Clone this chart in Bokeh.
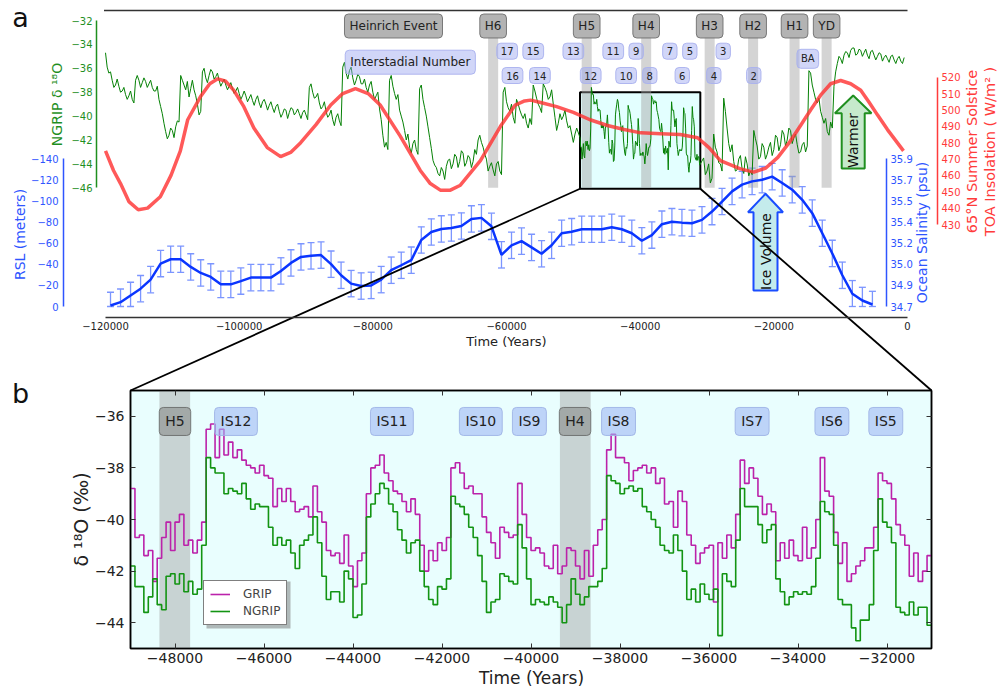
import numpy as np
from bokeh.plotting import figure
from bokeh.models import (Range1d, LinearAxis, FixedTicker, Label, Whisker, TeeHead,
                          ColumnDataSource, Legend, LegendItem)
from bokeh.embed import file_html
from bokeh.resources import INLINE

FONT = "DejaVu Sans"

# ---------------------------------------------------------------- data
# NGRIP d18O (panel a), values at -120000 + 500*k (up to -49500)
NGRIP_A_EARLY = [
    -34.7, -36.4, -37.0, -37.4, -37.5, -37.9, -38.2, -38.3, -38.6, -37.0,
    -37.0, -37.2, -37.1, -37.3, -37.6, -37.9, -38.6, -39.8, -41.3, -41.6,
    -41.2, -40.9, -40.5, -37.0, -37.8, -38.4, -37.0, -38.3, -39.9, -36.3,
    -36.8, -36.6, -36.3, -36.7, -37.0, -37.2, -37.4, -37.5, -37.7, -37.9,
    -38.1, -38.3, -38.3, -38.5, -38.7, -38.6, -38.9, -38.8, -39.0, -39.1,
    -39.3, -39.2, -39.6, -39.8, -39.5, -39.7, -39.4, -39.7, -39.8,
    -39.7, -39.9, -37.6, -38.0, -38.4, -38.9, -39.2, -39.6, -39.9, -40.3,
    -40.1, -40.4, -35.9, -36.4, -36.2, -36.8, -37.0, -36.7, -37.3, -37.6,
    -37.4, -38.0, -38.3, -39.4, -41.6, -42.2, -37.0, -37.5, -38.6, -39.5,
    -40.5, -42.0, -42.6, -42.3, -42.8, -37.7, -38.6, -40.0, -41.8, -43.7,
    -44.3, -45.0, -44.6, -44.2, -43.6, -44.0, -43.4, -43.8, -43.1, -43.9,
    -43.5, -43.8, -43.2, -41.6, -42.6, -43.6, -44.2, -44.5, -44.0, -44.6,
    -38.0, -38.8, -39.6, -40.1, -38.6, -39.5, -40.2, -40.6, -40.2, -37.4,
    -38.5, -39.3, -37.3, -38.0, -38.4, -39.0, -41.2, -39.8, -40.0, -40.4,
    -40.8, -42.2, -41.0]
# NGRIP d18O (panel a), values at -119750 + 500*k (between the ones above)
NGRIP_A_EARLY_MID = [
    -35.9, -36.3, -37.6, -36.9, -38.0, -37.6, -38.6, -37.9, -38.9, -36.6,
    -37.6, -36.8, -37.6, -37.0, -37.9, -37.5, -39.2, -40.6, -41.9, -41.0,
    -41.8, -40.4, -36.6, -37.4, -37.1, -37.7, -37.8, -39.0, -39.6, -36.0,
    -37.2, -36.1, -36.9, -36.4, -37.5, -36.9, -37.8, -37.2, -38.1, -37.6,
    -38.6, -37.9, -38.8, -38.2, -39.1, -38.3, -39.3, -38.6, -39.5, -38.8,
    -39.7, -39.0, -40.1, -39.4, -40.2, -39.3, -39.9, -39.4, -40.2, -39.5,
    -40.3, -37.3, -38.5, -38.1, -39.4, -38.8, -40.1, -39.5, -40.8, -39.8,
    -40.8, -35.5, -36.9, -35.9, -37.4, -36.5, -37.3, -36.9, -38.0, -37.1,
    -38.6, -38.0, -40.3, -42.6, -42.8, -36.6, -38.1, -38.2, -40.0, -41.2,
    -41.5, -43.1, -42.0, -43.2, -37.4, -39.3, -40.9, -42.7, -44.1, -44.8,
    -44.3, -45.3, -43.7, -44.4, -43.2, -44.3, -42.9, -44.2, -43.3, -44.3,
    -42.8, -42.0, -42.2, -43.2, -44.6, -43.9, -45.0, -43.8, -44.9, -37.6,
    -39.3, -39.0, -40.6, -39.0, -39.9, -39.8, -41.0, -40.7, -37.9, -39.0,
    -39.7, -37.6, -38.6, -37.8, -40.1, -40.6, -40.3, -39.5, -41.0, -41.5,
    -41.5]
# NGRIP d18O (panel a), values at -30500 + 500*k
NGRIP_A_LATE = [
    -43.5, -44.6, -45.6, -41.5, -43.0, -44.0, -38.5, -41.0, -43.0, -43.8,
    -44.5, -43.3, -44.8, -44.0, -44.6, -41.2, -42.5, -43.4, -42.6, -43.2,
    -42.2, -42.8, -41.8, -42.4, -41.5, -42.0, -41.2, -41.8, -42.4, -43.0,
    -42.2, -42.5, -36.4, -38.0, -38.9, -39.6, -40.6, -41.3, -40.5, -37.5,
    -35.6, -35.2, -34.9, -34.7, -34.5, -34.3, -34.8, -34.5, -34.7, -34.9,
    -34.6, -34.9, -35.0, -34.8, -35.1, -35.2, -35.0, -35.3, -35.2, -35.4,
    -35.1]
# NGRIP d18O (panel a), values at -30250 + 500*k
NGRIP_A_LATE_MID = [
    -44.9, -44.0, -45.2, -42.6, -43.9, -44.6, -39.6, -42.3, -42.4, -44.6,
    -43.6, -44.4, -43.4, -45.0, -44.9, -41.9, -43.6, -42.3, -43.6, -42.6,
    -43.3, -41.6, -42.9, -41.2, -42.5, -41.0, -42.3, -41.5, -43.1, -42.4,
    -43.0, -36.2, -37.4, -38.6, -38.5, -40.1, -40.2, -41.6, -41.0, -36.3,
    -35.0, -35.6, -34.6, -35.1, -34.3, -34.9, -34.4, -35.0, -34.4, -35.2,
    -34.5, -35.3, -34.7, -35.4, -34.9, -35.5, -34.9, -35.6, -35.0, -35.6]

# Panel b: 100-yr steps starting at -49000
GRIP_B = [
    -38.8, -40.7, -40.6, -41.4, -41.2, -42.4, -41.5, -40.7, -40.1, -41.2,
    -40.1, -39.8, -41.0, -40.8, -41.3, -40.8, -40.1, -36.5, -36.3, -37.6,
    -36.5, -37.5, -37.0, -37.6, -37.3, -37.7, -37.9, -38.0, -38.2, -37.9,
    -38.3, -38.4, -39.5, -38.8, -39.3, -38.8, -39.3, -39.7, -39.6, -39.5,
    -39.9, -38.7, -39.7, -40.1, -41.2, -41.4, -41.3, -41.7,
    -40.6, -41.8, -42.6, -41.6, -41.3, -39.0, -38.0, -37.9, -37.5, -38.2,
    -38.5, -38.9, -39.0, -39.3, -39.7, -39.2, -39.8, -41.0, -42.0, -41.2,
    -41.6, -40.9, -41.2, -40.7, -38.0, -37.8, -38.2, -38.8, -38.7, -39.0,
    -39.0, -39.9, -40.5, -40.9, -41.5, -40.3, -40.5, -40.7, -40.6, -38.6,
    -39.8, -40.7, -41.2, -41.1, -41.3, -41.8, -41.9, -41.0, -42.1, -41.8,
    -41.1, -41.2, -41.8, -42.3, -41.2, -42.2, -41.0, -40.4, -40.0, -37.3,
    -36.7, -37.6, -37.6, -37.8, -38.5, -38.1, -38.0, -37.9, -38.2, -38.0,
    -38.6, -38.4, -39.4, -39.3,
    -40.3, -38.9, -39.3, -40.6, -41.0, -41.7, -41.3, -41.1, -41.0, -43.2,
    -40.9, -41.5, -40.6, -41.1, -39.8, -37.7, -38.6, -38.0, -38.4, -39.1,
    -39.8, -39.4, -39.7, -41.6, -40.9, -41.5, -40.8, -41.4, -41.6, -40.3,
    -41.5, -41.1, -40.0, -37.6, -38.9, -39.1, -40.5, -41.7, -40.9, -42.4,
    -42.1, -41.8, -41.6, -41.1, -41.1, -40.3, -38.2, -38.5, -38.6, -39.2,
    -40.2, -40.6, -41.0, -42.2, -41.3, -42.4, -42.0, -41.4]
NGRIP_B = [
    -41.8, -42.6, -42.6, -43.6, -43.0, -42.3, -43.3, -43.5, -42.2, -42.1,
    -42.5, -42.1, -42.8, -42.4, -42.9, -42.7, -41.0, -37.6, -38.0, -38.2,
    -38.2, -39.0, -38.8, -38.9, -39.0, -38.6, -39.2, -39.6, -39.4, -39.5,
    -39.5, -40.3, -41.0, -40.7, -41.0, -40.8, -41.3, -41.9, -41.0, -40.8,
    -40.6, -39.9, -40.9, -42.2, -43.1, -42.8, -42.8, -43.2,
    -42.0, -42.3, -43.8, -43.7, -42.5, -39.9, -39.4, -39.0, -38.6, -38.8,
    -39.4, -39.7, -40.4, -40.8, -41.3, -40.9, -40.8, -42.0, -42.6, -43.1,
    -43.3, -42.6, -42.7, -42.3, -39.1, -39.4, -39.5, -39.8, -40.3, -40.7,
    -41.4, -42.4, -43.6, -43.2, -43.1, -42.1, -42.2, -42.4, -42.5, -40.2,
    -41.1, -42.3, -43.3, -43.1, -43.2, -43.3, -43.0, -43.2, -43.4, -44.0,
    -43.3, -42.3, -42.9, -43.3, -43.0, -42.6, -42.6, -42.4, -41.9, -38.3,
    -38.5, -38.6, -39.0, -38.8, -38.7, -38.9, -38.8, -39.5, -39.7, -40.0,
    -40.3, -41.0, -41.2, -41.3,
    -40.6, -41.2, -42.0, -43.1, -42.7, -43.2, -42.5, -42.9, -43.1, -42.7,
    -44.5, -42.1, -42.4, -42.6, -40.8, -38.8, -39.5, -39.5, -39.5, -40.2,
    -40.9, -40.4, -40.2, -42.3, -42.8, -43.3, -43.0, -42.8, -42.9, -42.8,
    -42.9, -42.6, -41.5, -39.3, -39.7, -39.8, -41.0, -43.1, -43.3, -43.3,
    -44.2, -44.7, -43.9, -43.9, -43.3, -41.2, -39.2, -40.1, -40.3, -40.9,
    -43.4, -43.6, -43.7, -43.2, -43.7, -43.4, -43.4, -44.1]

# 65N summer solstice insolation (W/m2)
INS_T = [-120000, -118800, -117750, -116500, -115100, -113700, -111800, -110200,
         -108800, -107700, -105800, -104400, -103200, -102000, -100800, -99300,
         -97800, -95800, -93800, -92300, -90800, -88500, -86300, -84500, -82600,
         -80700, -78900, -75900, -72900, -71400, -69900, -68400, -66900, -63900,
         -60900, -58700, -57300, -56400, -54900, -52500, -50000, -47500, -44900,
         -42400, -39900, -36900, -34000, -31400, -29700, -28000, -25000, -23000,
         -21200, -19400, -17700, -16000, -14500, -13000, -11500, -10000, -8500,
         -7000, -5800, -4500, -3000, -600]
INS_V = [475, 463, 455, 444, 439, 440, 447, 460,
         475, 494, 508, 516, 519, 517.5, 512, 502,
         489, 477, 471.5, 474, 480, 491, 503, 510, 513,
         510, 503, 484, 463, 455, 451, 451, 454, 469,
         490, 503, 505.5, 506, 504.5, 502, 498.5, 494, 490.5,
         488, 486, 485.5, 485, 483, 477, 469, 464, 462,
         464.5, 471, 480, 490.5, 500, 509, 516, 518, 516,
         512, 505, 497, 488, 475]

# Relative sea level (m), every 1500 yr from -119250
RSL_V = [-1.0, -4.1, -10.5, -16.9, -25.5, -40.7, -44.8, -44.8, -37.5, -31.8,
         -28.0, -21.0, -21.0, -24.1, -27.4, -27.4, -27.4, -33.7, -41.3, -47.0,
         -48.0, -48.7, -40.1, -29.6, -21.7, -19.4, -20.0, -25.5, -34.4, -39.1,
         -43.9, -63.0, -70.6, -73.5, -74.4, -76.3, -83.0, -84.0, -76.0, -49.0,
         -58.0, -62.0, -56.0, -50.0, -58.0, -69.4, -70.9, -73.2, -73.2, -73.2,
         -75.1, -73.2, -69.4, -62.3, -67.7, -78.0, -80.4, -79.5, -78.9, -82.1,
         -90.0, -99.5, -109.1, -115.5, -118.6, -120.2, -123.1, -117.1, -110.7, -101.1,
         -88.5, -69.4, -50.3, -29.6, -12.1, -5.7, -1.9]
RSL_ERR = 12.5

RSL_TICKS = [0, -20, -40, -60, -80, -100, -120, -140]
SAL_LABELS = ["34.7", "34.9", "35.0", "35.2", "35.4", "35.5", "35.7", "35.9"]
NG_TICKS = [-46, -44, -42, -40, -38, -36, -34, -32]
INS_TICKS = [430, 440, 450, 460, 470, 480, 490, 500, 510, 520]
XT_A = [-120000, -100000, -80000, -60000, -40000, -20000, 0]
XT_B = [-48000, -46000, -44000, -42000, -40000, -38000, -36000, -34000, -32000]
YT_B = [-44, -42, -40, -38, -36]

H_A_NAMES = ["H6", "H5", "H4", "H3", "H2", "H1", "YD"]
H_A_T = [-62000, -48000, -39100, -29600, -23100, -16900, -12100]
H_A_WIDTH = 1500
IS_A_NAMES = ["17", "16", "15", "14", "13", "12", "11", "10", "9", "8", "7", "6", "5", "4", "3", "2"]
IS_A_T = [-59900, -59100, -56000, -55000, -50000, -47400, -44030, -42100, -40600,
          -38560, -35560, -33700, -32570, -28980, -27570, -23000]
IS_A_ROW = [0, 1, 0, 1, 0, 1, 0, 1, 0, 1, 0, 1, 0, 1, 0, 1]
BA_T = -14920

IS_B_NAMES = ["IS12", "IS11", "IS10", "IS9", "IS8", "IS7", "IS6", "IS5"]
IS_B_T = [-46630, -43126, -41128, -40036, -38033, -35031, -33238, -32027]
H_B_NAMES = ["H5", "H4"]
H_B_T = [-48000, -39010]
H_B_LEFT = [-48350, -39350]
H_B_RIGHT = [-47660, -38660]

# ---------------------------------------------------------------- geometry (canvas pixels)
W, H = 1005, 688
A_LEFT, A_RIGHT = 105, 907
B_LEFT, B_RIGHT, B_TOP, B_BOTTOM = 130, 931, 390, 648
PXA = (A_RIGHT - A_LEFT) / 120000.0
PXB = (B_RIGHT - B_LEFT) / 18000.0


def ta(px):      # panel a time at canvas x
    return -120000 + (px - A_LEFT) / PXA


def tb(px):      # panel b time at canvas x
    return -49000 + (px - B_LEFT) / PXB


def ng(py):      # NGRIP axis value at canvas y
    return -32 - (py - 20) * 14 / 167.3


def rsl(py):
    return (py - 306) * 140 / 147.7


def ins(py):
    return 520 - (py - 76.7) * 90 / 147.3


def yb(py):
    return -35 - (py - B_TOP) * 10.0 / (B_BOTTOM - B_TOP)


def mlab(v):
    return str(v).replace("-", "\u2212")


def interleave(main, mid):
    out = np.empty(len(main) + len(mid))
    out[0::2] = main
    out[1::2] = mid
    return out


GREEN = "#1f8f1f"
BLUE = "#2e55ff"
RED = "#ff3b3b"

p = figure(width=W, height=H, output_backend="svg", toolbar_location=None,
           x_range=Range1d(ta(0), ta(W)), y_range=Range1d(ng(H), ng(0)),
           x_axis_location=None, y_axis_location=None,
           min_border_left=0, min_border_right=0, min_border_top=0, min_border_bottom=0,
           outline_line_color=None, background_fill_color="white", border_fill_color="white")
p.extra_x_ranges = {"xb": Range1d(tb(0), tb(W))}
p.extra_y_ranges = {"rsl": Range1d(start=rsl(H), end=rsl(0)),
                    "ins": Range1d(ins(H), ins(0)),
                    "yb": Range1d(yb(H), yb(0))}
p.grid.visible = False


def style_axis(ax, color, size="10px", line_color=None, tick_in=0):
    ax.axis_line_color = line_color
    ax.axis_line_width = 1.5
    ax.major_tick_in = tick_in
    ax.major_tick_out = 0
    ax.minor_tick_in = 0
    ax.minor_tick_out = 0
    ax.major_tick_line_color = "#333333"
    ax.major_label_text_color = color
    ax.major_label_text_font = FONT
    ax.major_label_text_font_size = size


# ---------------- panel a axes
xa_ax = LinearAxis(ticker=FixedTicker(ticks=XT_A), bounds=(-120000, 0), fixed_location=ng(317),
                   major_label_overrides={v: mlab(v) for v in XT_A}, major_label_standoff=4)
style_axis(xa_ax, "#222222", "10px", "#333333")
p.add_layout(xa_ax, "below")

ax_ng = LinearAxis(ticker=FixedTicker(ticks=NG_TICKS), bounds=(-46, -32), fixed_location=ta(96),
                   major_label_standoff=4, major_label_overrides={v: mlab(v) for v in NG_TICKS})
style_axis(ax_ng, GREEN, line_color=GREEN)
p.add_layout(ax_ng, "left")

ax_rsl = LinearAxis(y_range_name="rsl", ticker=FixedTicker(ticks=RSL_TICKS), bounds=(-140, 0),
                    fixed_location=ta(63), major_label_standoff=5,
                    major_label_overrides={v: mlab(v) for v in RSL_TICKS})
style_axis(ax_rsl, BLUE, line_color=BLUE)
p.add_layout(ax_rsl, "left")

ax_sal = LinearAxis(y_range_name="rsl", ticker=FixedTicker(ticks=RSL_TICKS), bounds=(-140, 0),
                    fixed_location=ta(886), major_label_standoff=4,
                    major_label_overrides=dict(zip(RSL_TICKS, SAL_LABELS)))
style_axis(ax_sal, BLUE, line_color=BLUE)
p.add_layout(ax_sal, "right")

ax_ins = LinearAxis(y_range_name="ins", ticker=FixedTicker(ticks=INS_TICKS), bounds=(430, 520),
                    fixed_location=ta(937), major_label_standoff=4)
style_axis(ax_ins, RED, line_color=RED)
p.add_layout(ax_ins, "right")

# ---------------- panel a marks
p.quad(left=[-49000], right=[-31000], bottom=[ng(188.3)], top=[ng(91.7)],
       fill_color="#dcffff", fill_alpha=0.8, line_color="black", line_width=2)

h_t = np.array(H_A_T, dtype=float)
p.quad(left=h_t - H_A_WIDTH / 2, right=h_t + H_A_WIDTH / 2,
       bottom=np.full(len(h_t), -46.0), top=np.full(len(h_t), ng(37)),
       fill_color="#a0a0a0", fill_alpha=0.45, line_color=None)

v_early = interleave(NGRIP_A_EARLY, NGRIP_A_EARLY_MID)
t_early = -120000 + 250 * np.arange(len(v_early))
t_bstep = -49000 + 100 * np.arange(len(NGRIP_B))
v_late = interleave(NGRIP_A_LATE, NGRIP_A_LATE_MID)
t_late = -30500 + 250 * np.arange(len(v_late))
p.line(np.concatenate([t_early, t_bstep, t_late]),
       np.concatenate([v_early, NGRIP_B, v_late]),
       line_color="#058005", line_width=1)

p.line(INS_T, INS_V, y_range_name="ins", line_color="#ff3030", line_alpha=0.8, line_width=3.5)

rsl_t = -119250 + 1500 * np.arange(len(RSL_V))
rsl_v = np.array(RSL_V)
src = ColumnDataSource(dict(t=rsl_t, lo=rsl_v - RSL_ERR, up=np.minimum(rsl_v + RSL_ERR, 0)))
EB = "#7b95ff"
p.add_layout(Whisker(source=src, base="t", lower="lo", upper="up", dimension="height",
                     y_range_name="rsl", line_color=EB, line_width=1.3, level="underlay",
                     upper_head=TeeHead(size=7, line_color=EB, line_width=1.3),
                     lower_head=TeeHead(size=7, line_color=EB, line_width=1.3)))
p.line(rsl_t, rsl_v, y_range_name="rsl", line_color="#0a35ff", line_width=2.5)


def arrow_poly(tc, half_shaft, half_head, y_tip, y_base, y_bottom):
    xs = [tc, tc - half_head, tc - half_shaft, tc - half_shaft, tc + half_shaft, tc + half_shaft, tc + half_head]
    ys = [y_tip, y_base, y_base, y_bottom, y_bottom, y_base, y_base]
    return xs, ys


wx, wy = arrow_poly(ta(852.7), 11.5 / PXA, 18.3 / PXA, ng(95), ng(112.7), ng(168))
p.patch(wx, wy, fill_color="#c6e9cc", line_color="#1f8f1f", line_width=2)
ix, iy = arrow_poly(ta(765), 12 / PXA, 17.5 / PXA, rsl(193.3), rsl(211.7), rsl(290))
p.patch(ix, iy, y_range_name="rsl", fill_color="#c4ebec", line_color="#1a4dff", line_width=2)

# top line of panel a and the two zoom connectors
p.segment(x0=[ta(103.5)], y0=[ng(10)], x1=[0], y1=[ng(10)], line_color="#333333", line_width=1.5)
p.segment(x0=[-49000, -31000], y0=[ng(188.3), ng(188.3)], x1=[ta(B_LEFT), ta(B_RIGHT)],
          y1=[ng(B_TOP), ng(B_TOP)], line_color="black", line_width=1.8)

# ---------------- panel b marks
p.quad(left=[-49000], right=[-31000], bottom=[-45], top=[-35], x_range_name="xb", y_range_name="yb",
       fill_color="#e9fefe", line_color="black", line_width=1.5)
p.quad(left=H_B_LEFT, right=H_B_RIGHT, bottom=[-45, -45], top=[-35, -35],
       x_range_name="xb", y_range_name="yb", fill_color="#a0a0a0", fill_alpha=0.45, line_color=None)
tbs = np.append(-49000 + 100 * np.arange(len(GRIP_B)), -31000)
r_grip = p.step(tbs, np.append(GRIP_B, GRIP_B[-1]), mode="after", x_range_name="xb", y_range_name="yb",
                line_color="#bb22aa", line_width=1.6)
r_ngrip = p.step(tbs, np.append(NGRIP_B, NGRIP_B[-1]), mode="after", x_range_name="xb", y_range_name="yb",
                 line_color="#139413", line_width=1.6)
p.quad(left=[-49000], right=[-31000], bottom=[-45], top=[-35], x_range_name="xb", y_range_name="yb",
       fill_color=None, line_color="black", line_width=1.5)
# legend shadow
p.quad(left=[tb(206)], right=[tb(290)], bottom=[yb(628)], top=[yb(581)], x_range_name="xb", y_range_name="yb",
       fill_color="#808080", fill_alpha=0.55, line_color=None)

xb_ax = LinearAxis(x_range_name="xb", y_range_name="yb", fixed_location=-45,
                   ticker=FixedTicker(ticks=XT_B), major_label_overrides={v: mlab(v) for v in XT_B},
                   major_label_standoff=4)
style_axis(xb_ax, "#222222", "14px", None, 5)
p.add_layout(xb_ax, "below")
yb_ax = LinearAxis(x_range_name="xb", y_range_name="yb", fixed_location=-49000,
                   ticker=FixedTicker(ticks=YT_B), major_label_overrides={v: mlab(v) for v in YT_B},
                   major_label_standoff=6)
style_axis(yb_ax, "#222222", "14px", None, 5)
p.add_layout(yb_ax, "left")
top_ax = LinearAxis(x_range_name="xb", y_range_name="yb", fixed_location=-35,
                    ticker=FixedTicker(ticks=XT_B))
style_axis(top_ax, "#222222", "10px", None, 5)
top_ax.major_label_text_alpha = 0
p.add_layout(top_ax, "above")
right_ax = LinearAxis(x_range_name="xb", y_range_name="yb", fixed_location=-31000,
                      ticker=FixedTicker(ticks=YT_B))
style_axis(right_ax, "#222222", "10px", None, 5)
right_ax.major_label_text_alpha = 0
p.add_layout(right_ax, "right")


# ---------------- labels
def box_label(x, y, text, size, fill, alpha, border, pad, **kw):
    p.add_layout(Label(x=x, y=y, text=text, text_align="center", text_baseline="middle",
                       text_font=FONT, text_font_size=size, text_color="#222222",
                       background_fill_color=fill, background_fill_alpha=alpha,
                       border_line_color=border, border_line_width=1, border_line_alpha=0.9,
                       padding=pad, border_radius=4, **kw))


IS_FILL, IS_BORDER = "#9aa4f0", "#a9b0ee"
H_FILL, H_BORDER = "#9a9a9a", "#6f6f6f"
for name, t in zip(H_A_NAMES, H_A_T):
    box_label(t, ng(25.5), name, "12px", H_FILL, 0.75, H_BORDER, 5)
box_label(ta(393), ng(25.5), "Heinrich Event", "12px", H_FILL, 0.75, H_BORDER, 5)
box_label(ta(409.8), ng(61.7), "Interstadial Number", "12px", IS_FILL, 0.45, IS_BORDER, 5)
for name, t, row in zip(IS_A_NAMES, IS_A_T, IS_A_ROW):
    box_label(t, ng(50.7) if row == 0 else ng(75), name, "10px", IS_FILL, 0.45, IS_BORDER, 4)
box_label(BA_T, ng(58.3), "BA", "10px", IS_FILL, 0.45, IS_BORDER, 4)

for name, t in zip(H_B_NAMES, H_B_T):
    box_label(t, -36.2, name, "14px", "#8a8e8c", 0.6, "#6a6d6b", 6, x_range_name="xb", y_range_name="yb")
for name, t in zip(IS_B_NAMES, IS_B_T):
    box_label(t, -36.2, name, "14px", "#a0b8f4", 0.6, "#9fb4e6", 6, x_range_name="xb", y_range_name="yb")


def txt(px, py, text, color="#111111", size="14px", angle=0.0):
    p.add_layout(Label(x=px, y=H - py, x_units="screen", y_units="screen",
                       text=text, angle=angle, text_align="center", text_baseline="middle",
                       text_font=FONT, text_font_size=size, text_color=color))


V = np.pi / 2
txt(56, 104, "NGRIP \u03b4 \u00b9\u2078O", GREEN, "14px", V)
txt(19, 234, "RSL (meters)", BLUE, "14px", V)
txt(921, 232, "Ocean Salinity (psu)", BLUE, "14px", V)
txt(971, 151, "65\u00b0N Summer Solstice", RED, "14.5px", V)
txt(989, 151, "TOA Insolation ( W/m\u00b2 )", RED, "14.5px", V)
txt(852.7, 140, "Warmer", "#111111", "14px", V)
txt(765, 251, "Ice Volume", "#111111", "14px", V)
txt(506, 341, "Time (Years)", "#222222", "13px")
txt(20, 17, "a", "#111111", "27px")
txt(20, 393, "b", "#111111", "27px")
txt(80, 519, "\u03b4 \u00b9\u2078O (\u2030)", "#222222", "19px", V)
txt(531, 677, "Time (Years)", "#222222", "17px")

leg = Legend(items=[LegendItem(label="GRIP", renderers=[r_grip]),
                    LegendItem(label="NGRIP", renderers=[r_ngrip])],
             location=(203, H - 625), label_text_font=FONT, label_text_font_size="12px",
             glyph_width=20, glyph_height=14, label_standoff=13, padding=6, spacing=3,
             margin=0, border_line_color="black", border_line_width=1.2,
             background_fill_color="white", background_fill_alpha=1)
p.add_layout(leg)

open("out.html", "w").write(file_html(p, INLINE, "chart"))
